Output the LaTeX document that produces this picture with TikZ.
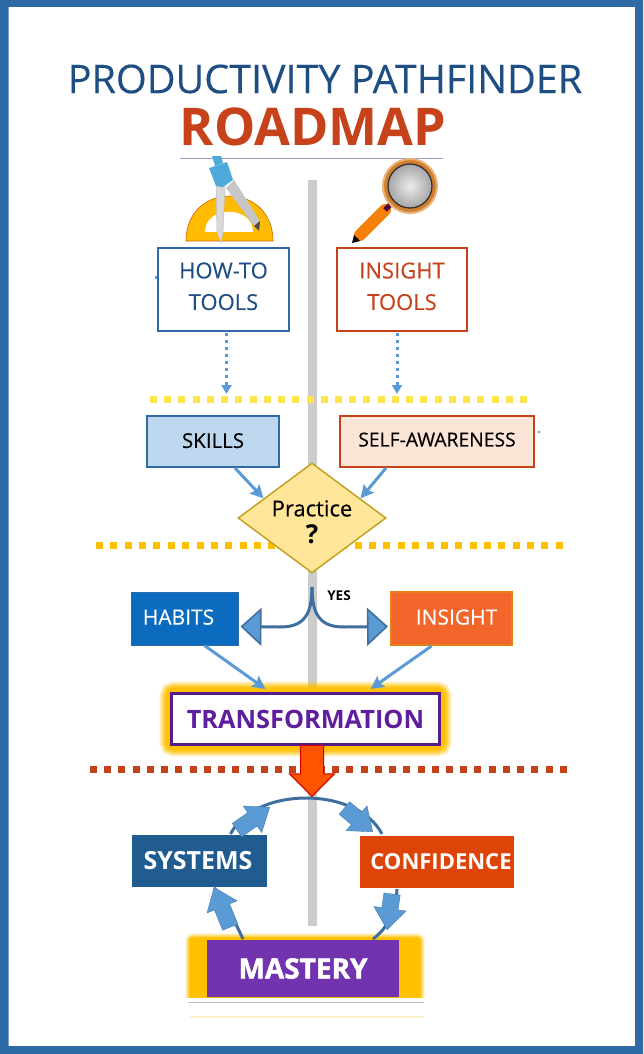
\documentclass[tikz,border=0pt]{standalone}
\usepackage{fontspec}
\setmainfont[UprightFeatures={FakeBold=0.25}]{Open Sans}
\newfontfamily\heavyfont[BoldFeatures={FakeBold=1.6}]{Open Sans}
\usetikzlibrary{positioning,calc,arrows.meta,shapes.geometric,shapes.arrows}
\definecolor{framec}{HTML}{2E6AA5}
\definecolor{barc}{HTML}{CCCCCC}
\definecolor{fblue}{HTML}{5B9BD5}
\definecolor{dblue}{HTML}{3F6F9F}
\definecolor{gold}{HTML}{FFC000}
\definecolor{rust}{HTML}{C5421A}
\definecolor{navy}{HTML}{1F4E85}
\definecolor{purp}{HTML}{5F1E9C}
\definecolor{skillc}{HTML}{BDD7EE}
\definecolor{selfc}{HTML}{FBE5D6}
\definecolor{practicec}{HTML}{FFE699}
\definecolor{habitc}{HTML}{0B6CBF}
\definecolor{insightc}{HTML}{F2652B}
\definecolor{systemc}{HTML}{215C90}
\definecolor{confc}{HTML}{DD4408}
\definecolor{masteryc}{HTML}{7233AE}
\newcommand{\fsz}[1]{\fontsize{#1}{#1}\selectfont}
\newcommand{\twolines}[2]{\raisebox{2.5pt}{\fsz{22}\begin{tabular}{@{}c@{}}#1\\[9pt]#2\end{tabular}}}
\tikzset{
  box/.style={draw,line width=2pt,minimum width=#1,inner sep=0pt,align=center},
  dotline/.style={line width=7pt,dash pattern=on 7pt off #1pt},
  dotarrow/.style={draw=fblue,line width=3pt,dash pattern=on 3.4pt off 3.6pt,-{Triangle[length=9pt,width=10pt,fill=fblue]}},
  flow/.style={draw=fblue,line width=3pt,-{Stealth[length=13pt,width=13pt,inset=2pt]}},
  curveline/.style={draw=dblue,line width=3pt},
  bighead/.style={-{Triangle[length=21pt,width=38pt,fill=fblue,line width=1.6pt]}},
  fat/.style={single arrow,draw=fblue!80!black,fill=fblue,line width=.4pt,inner sep=0pt,anchor=tip,single arrow tip angle=75,single arrow head extend=8pt},
}
\begin{document}
\begin{tikzpicture}[x=1pt,y=-1pt]
  \useasboundingbox (0,0) rectangle (643,1054);
  \fill[framec,even odd rule] (0,0) rectangle (643,1054) (8.5,7) rectangle (635,1046);%frame
  \node[text=navy] (title) at (325,79) {\fsz{39.5}PRODUCTIVITY PATHFINDER};
  \node[text=rust,font=\bfseries] (roadmap) at (313,127) {\fsz{52}ROADMAP};
  \draw[blue!30!gray!60,line width=1pt] (180,158)--(443,158);
  \draw[barc,line width=9pt] (312.5,180)--(312.5,926);%bar
  %protractor
  \draw[fill=gold!92!orange,draw=orange!80!black,line width=.6pt] (186,241) .. controls (186,181) and (273,181) .. (273,241)--cycle;
  \fill[white] (205,232) .. controls (205,205) and (253,205) .. (253,232)--cycle;
  %compass
  \fill[gray!45] (234,180)--(226,188)--(254,226)--(260,221)--cycle;
  \fill[black!70] (254,226)--(260,221)--(259,231)--cycle;
  \draw[gray!50,line width=.5pt,fill=gray!30] (216,186)--(225,187)--(223,232)--(221,243)--(217,232)--cycle;
  \fill[fblue!85!cyan] (212,156)--(221,156)--(223,163)--(215,166)--cycle;
  \fill[fblue!85!cyan] (209,168)--(227,162)--(233,180)--(223,187)--(216,186)--cycle;
  %magnifier
  \draw[line cap=round,orange!85!brown,line width=12pt] (385,210)--(360,235);
  \fill[black] (352,243)--(354,235)--(360,241)--cycle;
  \draw[violet!60!black,line width=5pt] (385,210)--(391,204);
  \fill[brown!70!orange,draw=orange!40!brown!60,line width=2pt] (410,186) circle [radius=27];
  \shade[inner color=gray!15,outer color=gray!70] (410,186) circle [radius=22];
  \draw[black!80,line width=1.3pt] (410,186) circle [radius=22];
  %dotted lines
  \draw[dotline=7.23,gold!60!yellow!70!white] (150,399)--(527,399);
  \draw[dotline=7.37,gold] (96,545)--(563,545);
  \draw[dotline=7.24,rust] (90,769)--(567,769);
  %specks
  \fill[fblue] (155,276) rectangle (158,279);
  \fill[fblue] (538,431) rectangle (540,433);
  %glows
  \foreach \w/\o in {24/.1,22/.15,20/.2,18/.25,16/.3,14/.4,12/.5,10/.6,8/.7,6/.8}
    \draw[gold,opacity=\o,line width=\w pt,rounded corners=3pt] (171,693) rectangle (440,745);
  \begin{scope}
    \clip (150,915) rectangle (440,997);
    \foreach \w/\o in {10/.12,8/.2,6/.3,4/.4,2/.6}
      \draw[gold,opacity=\o,line width=\w pt,rounded corners=3pt] (190,938) rectangle (420,1005);
    \fill[gold] (190,938) rectangle (420,1005);
  \end{scope}
  %boxes
  \node[box=131pt,minimum height=83pt,draw=framec,text=navy] (howto) at (223.5,289.5) {\twolines{HOW-TO}{TOOLS}};
  \node[box=130pt,minimum height=83pt,draw=rust,text=rust] (insighttools) at (402,289.5) {\twolines{INSIGHT}{TOOLS}};
  \node[box=132pt,minimum height=51pt,draw=framec,fill=skillc] (skills) at (213,441.5) {\raisebox{2pt}{\fsz{20.5}SKILLS}};
  \node[box=194pt,minimum height=51pt,draw=rust,fill=selfc] (self) at (437,441.5) {\raisebox{4pt}{\fsz{19.3}SELF-AWARENESS}};
  \node[diamond,draw=brown!60!yellow!90!black,fill=practicec,line width=1.5pt,minimum width=148pt,minimum height=110pt,inner sep=0pt,aspect=1.345] (practice) at (312,518) {};
  \node[align=center,inner sep=0pt] (practicetxt) at (312,522) {\fsz{22}Practice\\[7pt]\fsz{26}\bfseries ?};
  \node[box=107pt,minimum height=53pt,draw=framec,fill=habitc,text=white,line width=1pt] (habits) at (184.5,618.5) {\raisebox{3pt}{\hspace*{-12pt}\fsz{21}HABITS}};
  \node[box=121pt,minimum height=53pt,draw=orange!60!brown,fill=insightc,text=white] (insight) at (451.5,618.5) {\raisebox{3pt}{\hspace*{10pt}\fsz{21}INSIGHT}};
  \node[font=\bfseries,inner sep=0pt] (yes) at (339,596) {\fsz{13.5}YES};
  \node[box=268pt,minimum height=51pt,draw=purp!90!black,fill=white,text=purp,line width=3pt,font=\bfseries] (transformation) at (305.5,719) {\fsz{25.3}TRANSFORMATION};
  \node[box=135pt,minimum height=52pt,draw=none,fill=systemc,text=white,font=\bfseries] (systems) at (199.5,861) {\hspace*{-3pt}\fsz{25}SYSTEMS};
  \node[box=154pt,minimum height=52pt,draw=none,fill=confc,text=white,font=\bfseries] (confidence) at (437,862) {\hspace*{8pt}\fsz{22}CONFIDENCE};
  \node[box=192pt,minimum height=57pt,draw=none,fill=masteryc,text=white] (mastery) at (303,968.5) {\heavyfont\bfseries\fsz{28}MASTERY};
  %connectors
  \draw[dotarrow] ($(howto.south)+(3,1)$)--($(howto.south)+(3,62)$);
  \draw[dotarrow] ($(insighttools.south)+(-5,1)$)--($(insighttools.south)+(-5,62)$);
  \draw[flow] ($(skills.south)+(22,0)$)--(practice.158);
  \draw[flow] ($(self.south)+(-51,0)$)--(practice.22);
  \draw[curveline,bighead] (312,587) .. controls (312,616) and (303,627) .. (280,627)--($(habits.east)+(2,8)$);
  \draw[curveline,bighead] (312,587) .. controls (312,616) and (321,627) .. (344,627)--($(insight.west)+(-2,8)$);
  \draw[flow] ($(habits.south)+(20,0)$)--($(transformation.north)+(-40,-3)$);
  \draw[flow] ($(insight.south)+(-20,0)$)--($(transformation.north)+(65,-3)$);
  \draw[curveline] ($(systems.north)+(31,0)$) .. controls (255,786) and (357,786) .. ($(confidence.north)+(-55,-1)$);
  \draw[curveline] ($(mastery.north)+(-60,0)$) .. controls (232,915) and (222,900) .. ($(systems.south)+(15,0)$);
  \draw[curveline] ($(confidence.south)+(-40,0)$) .. controls (396,915) and (385,930) .. ($(mastery.north)+(70,0)$);
  \node[single arrow,draw=red!80!black,fill=orange!65!red,line width=1pt,inner sep=0pt,minimum height=51pt,single arrow head extend=11pt,single arrow tip angle=90,anchor=tip,rotate=-90] (down) at (312,797) {\rule{0pt}{22pt}};
  \node[fat,minimum height=40pt,rotate=35] (fata) at (270,807) {\rule{0pt}{16pt}};
  \node[fat,minimum height=37pt,rotate=-40] (fatb) at (373,832) {\rule{0pt}{16pt}};
  \node[fat,minimum height=43pt,rotate=112] (fatc) at (214,887) {\rule{0pt}{16pt}};
  \node[fat,minimum height=36pt,rotate=-98] (fatd) at (387,930) {\rule{0pt}{16pt}};
  %base lines
  \draw[gray!50,line width=1pt] (188,1002)--(424,1002);
  \draw[gold!20!white,line width=1.5pt] (190,1017)--(424,1017);
\end{tikzpicture}
\end{document}
